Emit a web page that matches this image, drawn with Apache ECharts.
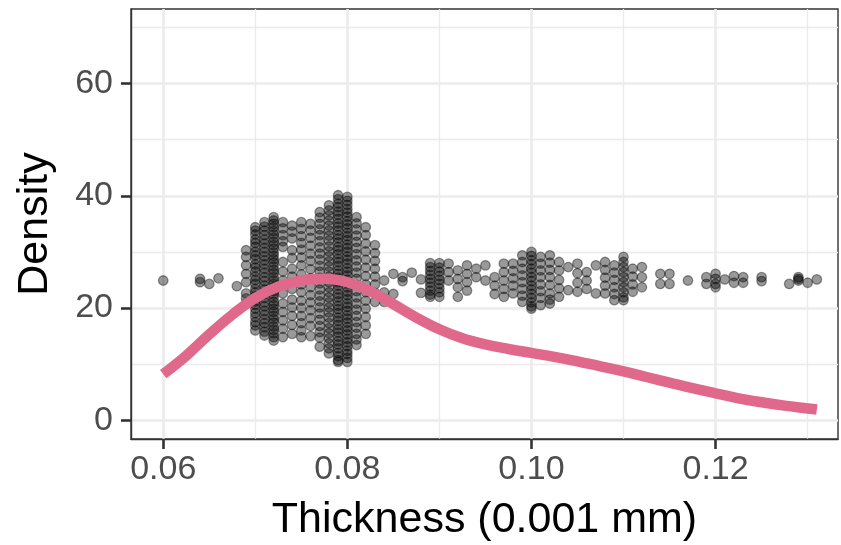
<!DOCTYPE html>
<html>
<head>
<meta charset="utf-8">
<script src="https://cdn.jsdelivr.net/npm/echarts@6/dist/echarts.min.js"></script>
<style>
  html, body { margin: 0; padding: 0; background: #fff; }
  #chart { width: 841px; height: 545px; }
</style>
</head>
<body>
<div id="chart"></div>
<script>
// thickness columns (x) and the stacked point heights
const colX = [0.060, 0.064, 0.065, 0.066, 0.068, 0.069, 0.070, 0.071, 0.072, 0.073,
  0.074, 0.075, 0.076, 0.077, 0.078, 0.079, 0.080, 0.081, 0.082, 0.083,
  0.084, 0.085, 0.086, 0.087, 0.088, 0.089, 0.090, 0.091, 0.092, 0.093,
  0.094, 0.095, 0.096, 0.097, 0.098, 0.099, 0.100, 0.101, 0.102, 0.103,
  0.104, 0.105, 0.106, 0.107, 0.108, 0.109, 0.110, 0.111, 0.112, 0.114,
  0.115, 0.117, 0.119, 0.120, 0.121, 0.122, 0.123, 0.125, 0.128, 0.129,
  0.130, 0.131];
const colY = [
  [24.9],
  [25.2, 24.6],
  [24.3],
  [25.3],
  [23.9],
  [30.3, 29.1, 27.6, 26.1, 24.6, 22.6, 21.7, 20.8],
  [34.4, 33.8, 33.1, 32.2, 31.6, 30.9, 30.0, 29.4, 28.7, 27.8, 27.2, 26.5, 25.6, 25.0, 24.3, 23.4, 22.8, 22.1, 21.2, 20.6, 19.9, 19.1, 18.4, 17.5, 16.9, 16.0],
  [35.3, 34.5, 33.8, 33.0, 32.2, 31.5, 30.7, 30.0, 29.2, 28.5, 27.8, 27.0, 26.3, 25.5, 24.8, 24.0, 23.3, 22.5, 21.8, 21.0, 20.3, 19.5, 18.8, 18.0, 17.3, 16.6, 15.8, 15.1],
  [36.2, 35.6, 35.0, 34.4, 33.7, 33.1, 32.5, 31.8, 31.2, 30.6, 29.9, 29.3, 28.7, 28.1, 27.4, 26.8, 26.2, 25.5, 24.9, 24.3, 23.7, 23.0, 22.4, 21.8, 21.1, 20.5, 19.9, 19.3, 18.6, 18.0, 17.4, 16.7, 16.1, 15.5, 14.8, 14.2],
  [35.3, 34.2, 33.0, 31.9, 30.9, 28.2, 26.5, 24.9, 22.6, 20.8, 19.3, 17.8, 16.3, 14.8],
  [34.7, 33.6, 32.4, 30.3, 28.9, 27.0, 25.6, 23.4, 21.5, 20.1, 18.6, 17.0, 15.4],
  [35.3, 34.1, 32.8, 31.6, 30.4, 29.0, 27.6, 26.0, 24.2, 22.8, 21.3, 20.0, 18.6, 17.3, 16.0, 14.8],
  [35.0, 33.8, 32.5, 31.1, 29.7, 28.4, 26.9, 25.3, 23.7, 22.3, 21.0, 19.6, 18.2, 16.8, 15.0],
  [37.1, 36.1, 35.0, 34.0, 33.0, 31.9, 30.8, 29.7, 28.6, 27.5, 26.5, 25.4, 24.4, 23.3, 22.2, 21.2, 20.1, 19.0, 17.9, 16.8, 15.7, 14.7, 13.1],
  [38.3, 37.4, 36.5, 35.6, 34.7, 33.8, 32.9, 32.0, 31.0, 30.1, 29.2, 28.3, 27.4, 26.5, 25.6, 24.6, 23.7, 22.8, 21.9, 21.0, 20.1, 19.2, 18.3, 17.3, 16.4, 15.5, 14.6, 13.7, 12.8, 11.9],
  [40.1, 39.4, 38.6, 38.0, 37.2, 36.6, 35.9, 35.1, 34.5, 33.8, 33.0, 32.4, 31.7, 30.9, 30.3, 29.6, 28.8, 28.2, 27.5, 26.7, 26.1, 25.4, 24.6, 24.0, 23.3, 22.5, 21.9, 21.2, 20.4, 19.8, 19.1, 18.3, 17.7, 17.0, 16.2, 15.6, 14.9, 14.1, 13.5, 12.8, 12.0, 11.4, 10.7, 10.4],
  [39.8, 39.1, 38.4, 37.6, 37.0, 36.3, 35.5, 34.9, 34.2, 33.4, 32.8, 32.1, 31.3, 30.7, 30.0, 29.2, 28.6, 27.9, 27.1, 26.5, 25.8, 25.0, 24.4, 23.7, 22.9, 22.3, 21.6, 20.8, 20.2, 19.5, 18.7, 18.1, 17.4, 16.6, 16.0, 15.3, 14.5, 13.9, 13.2, 12.4, 11.8, 11.1, 10.4],
  [36.2, 35.1, 34.0, 32.9, 31.8, 30.7, 29.6, 28.5, 27.4, 26.3, 25.2, 24.1, 23.0, 21.9, 20.8, 19.7, 18.6, 17.5, 16.5, 15.4, 14.4, 13.4],
  [34.4, 33.0, 31.5, 30.1, 28.6, 27.2, 25.7, 24.2, 22.8, 21.3, 19.9, 18.4, 16.9, 15.4],
  [31.2, 29.8, 28.4, 27.0, 25.6, 24.2, 22.7, 21.1],
  [24.9, 22.8, 21.1],
  [26.1, 22.5],
  [25.5, 24.8],
  [26.3],
  [25.1, 22.7],
  [28.0, 27.3, 26.6, 25.9, 25.2, 24.5, 23.8, 23.1, 22.4, 22.0],
  [28.0, 27.2, 26.5, 25.7, 25.0, 24.3, 23.5, 22.8, 22.0],
  [27.9, 26.4, 24.9],
  [26.7, 25.2, 23.7, 22.0],
  [27.6, 26.1, 24.6, 23.1],
  [27.0, 25.5],
  [27.6, 24.9],
  [25.5, 24.0, 22.5],
  [27.9, 26.4, 24.9, 23.4, 22.0],
  [27.9, 26.6, 25.3, 24.0, 22.6],
  [29.4, 28.2, 27.0, 25.8, 24.6, 23.4, 22.2, 21.1],
  [30.0, 29.3, 28.5, 27.8, 27.0, 26.3, 25.5, 24.8, 24.0, 23.3, 22.5, 21.8, 21.0, 20.3, 19.9],
  [29.1, 27.9, 26.7, 25.5, 24.2, 23.0, 21.8, 20.5],
  [29.4, 28.1, 26.8, 25.5, 24.1, 22.6, 21.5, 20.8],
  [28.2, 26.7, 25.0, 23.5, 22.0],
  [27.3, 23.2],
  [27.9, 26.2, 24.5, 22.9],
  [26.4, 24.9, 23.4],
  [27.6, 22.6],
  [28.2, 26.8, 25.4, 24.0, 22.6],
  [27.6, 26.3, 25.0, 23.7, 22.5, 21.4],
  [29.1, 28.2, 27.3, 26.4, 25.5, 24.6, 23.7, 22.8, 21.9, 21.4],
  [27.0, 25.6, 24.2, 22.9],
  [27.3, 25.5, 23.7],
  [26.1, 24.3],
  [26.1, 24.3],
  [24.9],
  [25.5, 24.3],
  [26.1, 25.2, 24.3, 23.7],
  [25.1],
  [25.7, 24.5],
  [25.5, 24.5],
  [25.5, 24.8],
  [24.3],
  [25.5, 25.2, 24.9],
  [24.5],
  [25.1]
];

// density curve
const densX = [0.060, 0.0625, 0.065, 0.0675, 0.070, 0.0725, 0.075, 0.0775, 0.080, 0.0825,
  0.085, 0.0875, 0.090, 0.0925, 0.095, 0.0975, 0.100, 0.1025, 0.105, 0.1075,
  0.110, 0.1125, 0.115, 0.1175, 0.120, 0.1225, 0.125, 0.1275, 0.130, 0.131];
const densY = [8.2, 11.5, 15.3, 18.8, 21.8, 23.8, 24.9, 25.2, 24.6, 23.0,
  20.7, 18.3, 16.2, 14.6, 13.5, 12.7, 12.0, 11.3, 10.5, 9.6,
  8.7, 7.7, 6.7, 5.7, 4.8, 3.9, 3.2, 2.6, 2.1, 1.9];

// ticks
const xMajor = [0.06, 0.08, 0.10, 0.12];
const xMinor = [0.07, 0.09, 0.11, 0.13];
const yMajor = [0, 20, 40, 60];
const yMinor = [10, 30, 50, 70];

const FONT = '"Liberation Sans", Arial, sans-serif';
const GRID_COL = '#EBEBEB';
const INK = '#333333';

const points = [];
colX.forEach((x, i) => colY[i].forEach(y => points.push([x, y])));
const curve = densX.map((x, i) => [x, densY[i]]);

const chart = echarts.init(document.getElementById('chart'));

// major axis: ticks, labels and the wider grid lines
const majorAxis = (vals, fmt, margin) => ({
  axisLine: { show: true, onZero: false, lineStyle: { color: INK, width: 1.4 } },
  axisTick: { show: true, customValues: vals, length: 10, lineStyle: { color: INK, width: 2.6 } },
  axisLabel: { show: true, customValues: vals, formatter: fmt, margin: margin, color: '#4D4D4D', fontSize: 34, fontFamily: FONT },
  splitLine: { show: true, lineStyle: { color: GRID_COL, width: 2.6 } }
});
// minor axis: only the thin grid lines in between
const minorAxis = (vals) => ({
  axisLine: { show: false, onZero: false },
  axisTick: { show: false, customValues: vals },
  axisLabel: { show: false },
  splitLine: { show: true, lineStyle: { color: GRID_COL, width: 1.3 } }
});

chart.setOption({
  animation: false,
  grid: {
    left: 131, right: 3, top: 9, bottom: 106,
    outerBoundsMode: 'none', containLabel: false,
    show: true, borderColor: INK, borderWidth: 1.4
  },
  xAxis: [
    Object.assign({
      type: 'value', min: 0.0565, max: 0.1333, position: 'bottom',
      name: 'Thickness (0.001 mm)', nameLocation: 'middle', nameGap: 60, nameMoveOverlap: false,
      nameTextStyle: { color: '#000', fontSize: 43, fontFamily: FONT }
    }, majorAxis(xMajor, v => v.toFixed(2), 14)),
    Object.assign({ type: 'value', min: 0.0565, max: 0.1333, position: 'top' }, minorAxis(xMinor))
  ],
  yAxis: [
    Object.assign({
      type: 'value', min: -3.35, max: 73.3, position: 'left',
      name: 'Density', nameLocation: 'middle', nameGap: 74, nameMoveOverlap: false,
      nameTextStyle: { color: '#000', fontSize: 43, fontFamily: FONT }
    }, majorAxis(yMajor, v => String(v), 18)),
    Object.assign({ type: 'value', min: -3.35, max: 73.3, position: 'right' }, minorAxis(yMinor))
  ],
  series: [
    {
      type: 'scatter', data: points, symbol: 'circle', symbolSize: 9.5,
      itemStyle: { color: 'rgba(0,0,0,0.5)', borderColor: 'rgba(0,0,0,0.5)', borderWidth: 1.3 },
      z: 3
    },
    {
      type: 'line', data: curve, smooth: 0.4, showSymbol: false, symbol: 'none',
      lineStyle: { color: '#E0688A', width: 10.5, cap: 'butt' },
      z: 4
    }
  ]
});
</script>
</body>
</html>
